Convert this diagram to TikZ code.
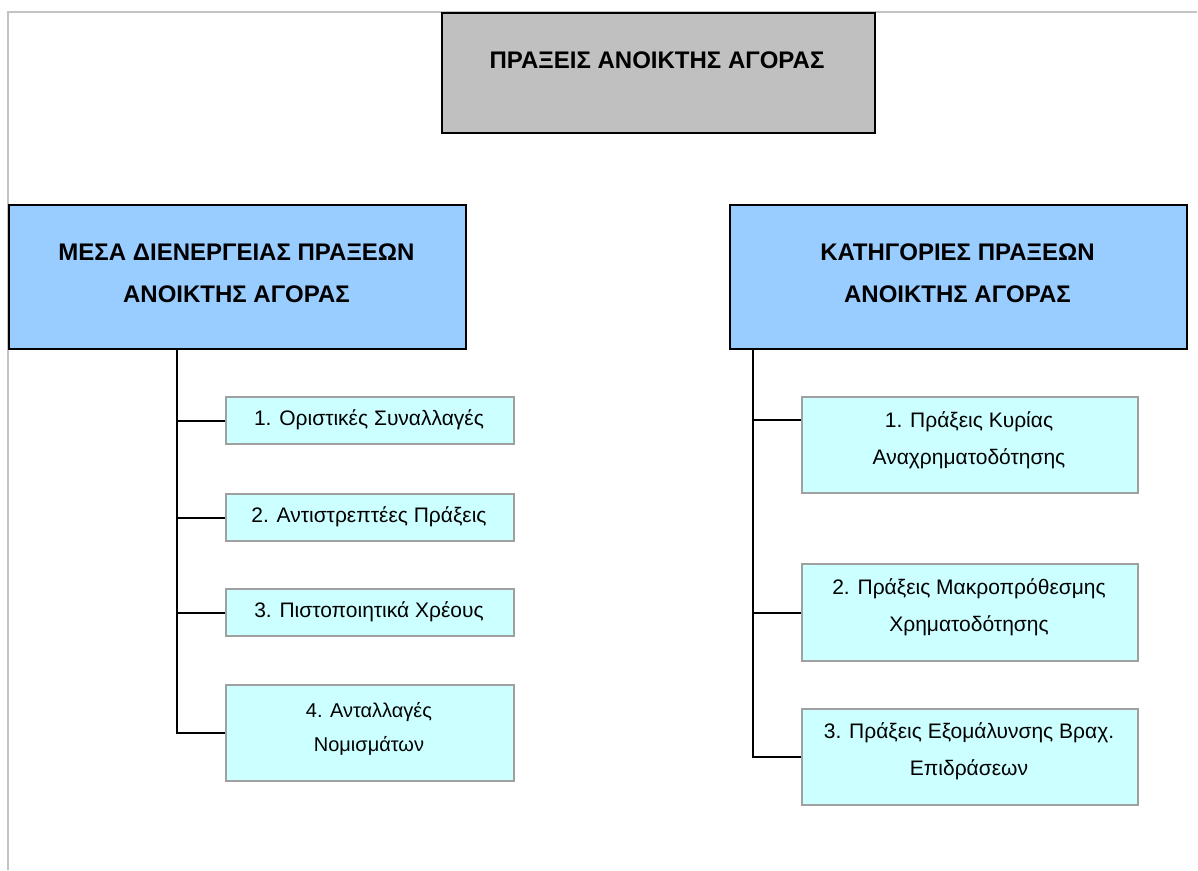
\documentclass[tikz,border=0pt]{standalone}
\usepackage{fontspec}
\setmainfont{Liberation Sans}
\definecolor{pagegray}{HTML}{C4C4C4}
\definecolor{topfill}{HTML}{C0C0C0}
\definecolor{headfill}{HTML}{99CCFF}
\definecolor{childfill}{HTML}{CCFFFF}
\definecolor{childline}{HTML}{A0A0A0}
\begin{document}
\begin{tikzpicture}[x=1pt,y=-1pt,
  boxbase/.style={rectangle, inner sep=0pt, anchor=north west, line width=2pt},
  topbox/.style={boxbase, draw=black, fill=topfill},
  headbox/.style={boxbase, draw=black, fill=headfill},
  childbox/.style={boxbase, draw=childline, fill=childfill},
  headtxt/.style={font=\fontsize{24}{42}\selectfont\bfseries, align=center, inner sep=0pt},
  childtxt/.style={font=\fontsize{21}{37}\selectfont, align=center, inner sep=0pt},
  conn/.style={draw=black, line width=2pt}
]
\useasboundingbox (0,0) rectangle (1198,870);
% page border
\coordinate (pgL) at (8,870);
\coordinate (pgC) at (8,12);
\coordinate (pgR) at (1197,12);
\draw[pagegray, line width=1.5pt] (pgL) -- (pgC) -- (pgR);

% top box
\node[topbox, minimum width=433pt, minimum height=120pt] (top) at (441,12) {};
\node[headtxt] (toptxt) at (657,60) {ΠΡΑΞΕΙΣ ΑΝΟΙΚΤΗΣ ΑΓΟΡΑΣ};

% heads
\node[headbox, minimum width=457pt, minimum height=144pt] (L) at (8,204) {};
\node[headtxt] (Ltxt) at (236.5,273) {ΜΕΣΑ ΔΙΕΝΕΡΓΕΙΑΣ ΠΡΑΞΕΩΝ\\ΑΝΟΙΚΤΗΣ ΑΓΟΡΑΣ};
\node[headbox, minimum width=457pt, minimum height=144pt] (R) at (729,204) {};
\node[headtxt] (Rtxt) at (957.5,273) {ΚΑΤΗΓΟΡΙΕΣ ΠΡΑΞΕΩΝ\\ΑΝΟΙΚΤΗΣ ΑΓΟΡΑΣ};

% left children
\node[childbox, minimum width=288pt, minimum height=47pt] (l1) at (225,396) {};
\node[childtxt] (l1t) at (369,420) {1. Οριστικές Συναλλαγές};
\node[childbox, minimum width=288pt, minimum height=47pt] (l2) at (225,493) {};
\node[childtxt] (l2t) at (369,517) {2. Αντιστρεπτέες Πράξεις};
\node[childbox, minimum width=288pt, minimum height=47pt] (l3) at (225,588) {};
\node[childtxt] (l3t) at (369,612) {3. Πιστοποιητικά Χρέους};
\node[childbox, minimum width=288pt, minimum height=96pt] (l4) at (225,684) {};
\node[childtxt, font=\fontsize{20}{34}\selectfont] (l4t) at (369,729) {4. Ανταλλαγές\\Νομισμάτων};

% right children
\node[childbox, minimum width=336pt, minimum height=96pt] (r1) at (801,396) {};
\node[childtxt] (r1t) at (969,440) {1. Πράξεις Κυρίας\\Αναχρηματοδότησης};
\node[childbox, minimum width=336pt, minimum height=97pt] (r2) at (801,563) {};
\node[childtxt] (r2t) at (969,607) {2. Πράξεις Μακροπρόθεσμης\\Χρηματοδότησης};
\node[childbox, minimum width=336pt, minimum height=96pt] (r3) at (801,708) {};
\node[childtxt] (r3t) at (969,751) {3. Πράξεις Εξομάλυνσης Βραχ.\\Επιδράσεων};

% connectors left
\coordinate (LT) at ([xshift=169pt]L.south west);
\draw[conn] (LT) |- (l4.west);
\draw[conn] (l1.west) -- (l1.west -| LT);
\draw[conn] (l2.west) -- (l2.west -| LT);
\draw[conn] (l3.west) -- (l3.west -| LT);

% connectors right
\coordinate (RT) at ([xshift=24pt]R.south west);
\draw[conn] (RT) |- (r3.west);
\draw[conn] ([yshift=25pt]r1.west) -- ([yshift=25pt]r1.west -| RT);
\draw[conn] (r2.west) -- (r2.west -| RT);
\end{tikzpicture}
\end{document}
